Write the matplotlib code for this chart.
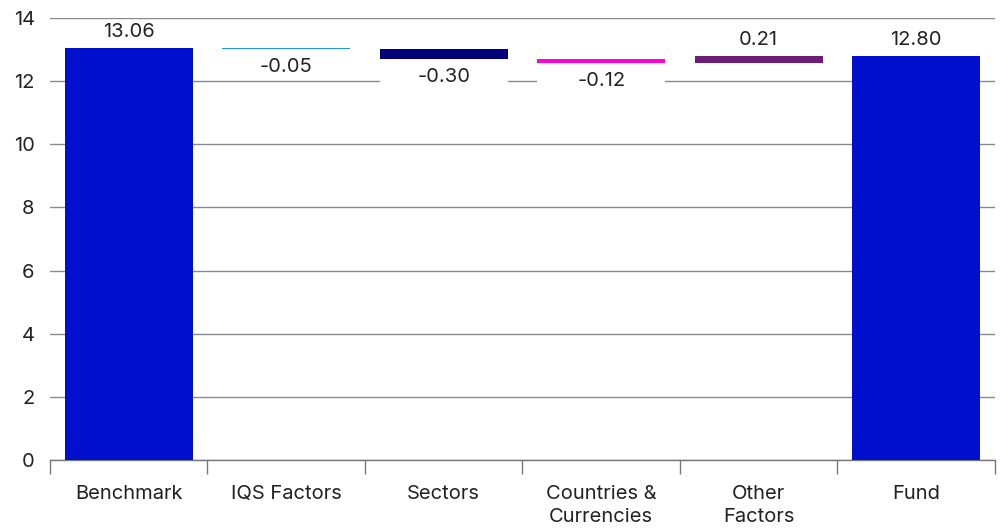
import matplotlib
matplotlib.use("Agg")
import matplotlib.pyplot as plt
import numpy as np

categories = ["Benchmark", "IQS Factors", "Sectors", "Countries &\nCurrencies", "Other\nFactors", "Fund"]
values = [13.06, -0.05, -0.30, -0.12, 0.21, 12.80]
is_total = [True, False, False, False, False, True]
colors = ["#0010CC", "#1A9AEF", "#00007A", "#FF00DD", "#6B1D78", "#0010CC"]
yticks = [0, 2, 4, 6, 8, 10, 12, 14]

plt.rcParams['font.family'] = ['Inter', 'DejaVu Sans']

fig = plt.figure(figsize=(10.03, 5.31), dpi=100)
ax = fig.add_axes([50/1003, 71/531, 945/1003, 442/531])

x = np.arange(len(categories))
bottoms, heights = [], []
running = 0.0
for v, t in zip(values, is_total):
    if t:
        bottoms.append(0.0); heights.append(v); running = v
    else:
        if v >= 0:
            bottoms.append(running); heights.append(v)
        else:
            bottoms.append(running + v); heights.append(-v)
        running += v

w = 0.81
fs = 14.5
ax.bar(x, heights, bottom=bottoms, width=w, color=colors, zorder=3)

for xi, v, b, h in zip(x, values, bottoms, heights):
    if v >= 0:
        ax.annotate(f"{v:.2f}", (xi, b + h), xytext=(0, 5), textcoords="offset points",
                    ha="center", va="bottom", fontsize=fs, color="#222222", zorder=5)
    else:
        # white box behind the label, bar width
        ax.bar(xi, 0.93, bottom=b - 0.93, width=w, color="white", zorder=2.5)
        ax.annotate(f"{v:.2f}", (xi, b), xytext=(0, -6.5), textcoords="offset points",
                    ha="center", va="top", fontsize=fs, color="#222222", zorder=5)

ax.set_xlim(-0.5, len(categories) - 0.5)
ax.set_ylim(0, 14)
ax.set_yticks(yticks)
ax.yaxis.grid(True, color="#8a8a8a", linewidth=1, zorder=1)
ax.set_axisbelow(True)
for s in ["left", "right", "top"]:
    ax.spines[s].set_visible(False)
ax.spines["bottom"].set_color("#777777")
ax.spines["bottom"].set_linewidth(1)
ax.tick_params(axis="y", length=0, labelsize=fs, labelcolor="#222222", pad=11)

ax.set_xticks(x)
ax.set_xticklabels(categories, fontsize=fs, color="#222222", linespacing=1.35)
ax.tick_params(axis="x", which="major", length=0, pad=18)
ax.set_xticks(np.arange(-0.5, len(categories)), minor=True)
ax.tick_params(axis="x", which="minor", length=10, color="#777777", width=1)

fig.savefig("out.png", dpi=100)
